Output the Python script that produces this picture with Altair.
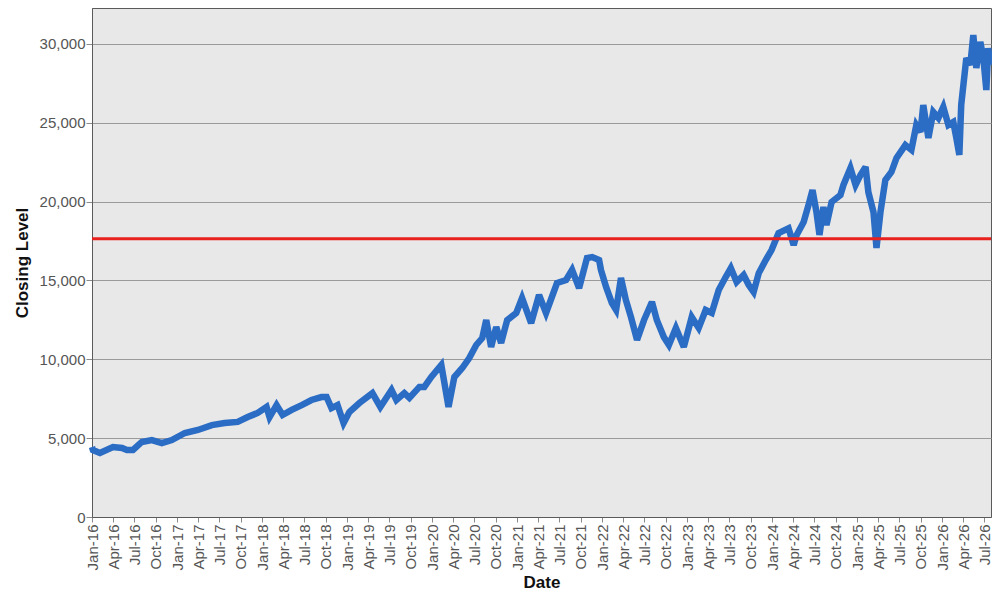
import altair as alt
import pandas as pd

# ---- data ----
dates = [
    "2016-01-01", "2016-01-05", "2016-02-04", "2016-03-31", "2016-05-09", "2016-05-30",
    "2016-06-25", "2016-08-02", "2016-09-14", "2016-10-27", "2016-12-09", "2017-02-03",
    "2017-03-31", "2017-05-30", "2017-07-24", "2017-09-18", "2017-10-31", "2017-12-13",
    "2018-01-20", "2018-02-02", "2018-03-04", "2018-03-30", "2018-05-08", "2018-06-20",
    "2018-08-01", "2018-09-13", "2018-10-05", "2018-10-26", "2018-11-21", "2018-12-17",
    "2019-01-11", "2019-02-23", "2019-04-20", "2019-05-24", "2019-07-11", "2019-08-01",
    "2019-09-04", "2019-09-26", "2019-11-08", "2019-11-29", "2019-12-29", "2020-02-10",
    "2020-03-12", "2020-04-06", "2020-05-10", "2020-06-09", "2020-07-09", "2020-08-04",
    "2020-08-21", "2020-09-11", "2020-10-03", "2020-10-24", "2020-11-19", "2020-12-28",
    "2021-01-22", "2021-03-02", "2021-04-05", "2021-05-05", "2021-06-21", "2021-07-30",
    "2021-08-25", "2021-09-24", "2021-10-28", "2021-11-19", "2021-12-19", "2021-12-27",
    "2022-01-18", "2022-02-12", "2022-03-02", "2022-03-23", "2022-04-13", "2022-05-05",
    "2022-05-31", "2022-06-30", "2022-08-03", "2022-08-24", "2022-09-23", "2022-10-15",
    "2022-11-14", "2022-12-18", "2023-01-21", "2023-02-20", "2023-03-22", "2023-04-17",
    "2023-05-17", "2023-06-16", "2023-07-08", "2023-08-02", "2023-09-01", "2023-09-23",
    "2023-10-14", "2023-11-05", "2023-12-05", "2023-12-30", "2024-01-29", "2024-03-12",
    "2024-04-03", "2024-04-16", "2024-05-16", "2024-06-06", "2024-06-23", "2024-07-10",
    "2024-07-23", "2024-08-09", "2024-08-22", "2024-09-13", "2024-10-21", "2024-11-03",
    "2024-12-03", "2024-12-25", "2025-01-15", "2025-02-06", "2025-02-18", "2025-03-12",
    "2025-03-25", "2025-04-11", "2025-05-02", "2025-05-28", "2025-06-19", "2025-07-27",
    "2025-08-22", "2025-09-12", "2025-09-30", "2025-10-12", "2025-11-03", "2025-11-24",
    "2025-12-16", "2026-01-06", "2026-01-28", "2026-02-18", "2026-03-03", "2026-03-16",
    "2026-03-24", "2026-04-15", "2026-05-02", "2026-05-15", "2026-05-28", "2026-06-14",
    "2026-06-27", "2026-07-10", "2026-07-18", "2026-07-27",
]
closes = [
    4440, 4250, 4060, 4440, 4380, 4250,
    4250, 4760, 4880, 4690, 4880, 5330,
    5520, 5830, 5960, 6030, 6340, 6600,
    6980, 6340, 7100, 6470, 6790, 7100,
    7420, 7610, 7610, 6910, 7100, 5960,
    6660, 7230, 7860, 6980, 8050, 7420,
    7860, 7550, 8250, 8250, 8880, 9640,
    6980, 8880, 9450, 10080, 10910, 11350,
    12490, 10780, 12050, 11040, 12490, 12940,
    13890, 12300, 14080, 12940, 14840, 15030,
    15670, 14520, 16430, 16490, 16300, 15670,
    14590, 13570, 13130, 15160, 13760, 12680,
    11230, 12490, 13640, 12490, 11420, 10910,
    11990, 10780, 12680, 11990, 13130, 12940,
    14400, 15220, 15790, 14900, 15350, 14710,
    14270, 15470, 16300, 16930, 18010, 18310,
    17250, 17890, 18710, 19790, 20740, 19340,
    17890, 19660, 18520, 19980, 20420, 21060,
    22130, 21060, 21690, 22200, 20610, 19340,
    17060, 19340, 21370, 21880, 22770, 23590,
    23280, 24860, 24420, 26130, 24040, 25690,
    25310, 26000, 24860, 25050, 24040, 22960,
    26130, 29110, 28670, 30570, 28480, 30130,
    29110, 27080, 29740, 28670,
]
reference_level = 17650
y_tick_values = [0, 5000, 10000, 15000, 20000, 25000, 30000]
tick_years = list(range(2016, 2027))
tick_months = [1, 4, 7, 10]

df = pd.DataFrame({"date": dates, "close": closes})
ref_df = pd.DataFrame({"level": [reference_level]})

x_ticks = [
    alt.DateTime(year=y, month=m, date=1, utc=True)
    for y in tick_years for m in tick_months
    if (y, m) <= (2026, 7)
]

x_enc = alt.X(
    "date:T",
    title="Date",
    scale=alt.Scale(
        type="utc",
        domain=[alt.DateTime(year=2016, month=1, date=1, utc=True),
                alt.DateTime(year=2026, month=7, date=30, utc=True)],
    ),
    axis=alt.Axis(
        values=x_ticks, format="%b-%y", labelAngle=-90, labelAlign="right",
        labelBaseline="middle", grid=False, tickSize=5, labelPadding=2,
        labelFontSize=15, labelOverlap=False, titlePadding=5,
    ),
)
y_enc = alt.Y(
    "close:Q",
    title="Closing Level",
    scale=alt.Scale(domain=[0, 32283], nice=False, zero=True),
    axis=alt.Axis(
        values=y_tick_values, format=",d", grid=True, gridColor="#9a9a9a",
        gridWidth=1, tickSize=6, labelPadding=1, labelFontSize=15, titlePadding=8,
    ),
)

line = alt.Chart(df).mark_line(
    color="#2b6cc4", strokeWidth=6.5, strokeJoin="miter", strokeMiterLimit=3
).encode(x=x_enc, y=y_enc)

rule = alt.Chart(ref_df).mark_rule(color="#e8201e", strokeWidth=3).encode(
    y=alt.Y("level:Q")
)

chart = alt.layer(line, rule).properties(
    width=899,
    height=509,
    autosize=alt.AutoSizeParams(type="none"),
    padding={"left": 84, "top": 0, "right": 1, "bottom": 75},
    background="white",
).configure_view(
    fill="#e8e8e8", stroke="#5a5a5a", strokeWidth=1
).configure_axis(
    domainColor="#5a5a5a", domainWidth=1, tickColor="#8a8a8a",
    labelColor="#555555", labelFont="Liberation Sans",
    titleFont="Liberation Sans", titleFontSize=17, titleFontWeight="bold",
    titleColor="#111111",
)

chart.save("out.html", embed_options={"renderer": "svg", "actions": False})
